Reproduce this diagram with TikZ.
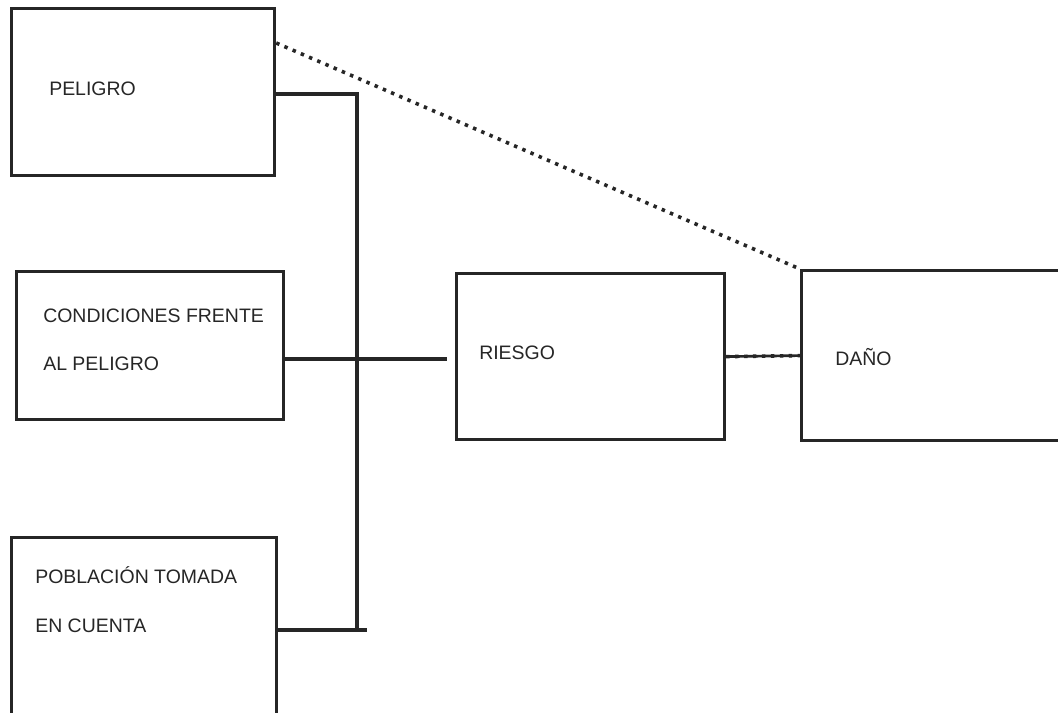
\documentclass[tikz,border=0pt]{standalone}
\usepackage{fontspec}
\setmainfont{Liberation Sans}
\usepackage{xcolor}

\begin{document}
\begin{tikzpicture}[x=0.75pt,y=-0.75pt]
    \definecolor{mygray}{RGB}{38,38,38}
    \fontsize{14.6pt}{17pt}\selectfont
    \tikzstyle{box}=[rectangle,draw=mygray,line width=2.4pt,inner sep=0pt,anchor=north west]  % cajas sin texto
    \tikzstyle{txt}=[inner sep=0pt,anchor=base west,text=mygray]  % textos
    \tikzstyle{wire}=[draw=mygray,line width=2.4pt]  % lineas de union
    \tikzstyle{dots}=[draw=mygray,line width=2.7pt,dash pattern=on 2.6pt off 4.1pt]
    \tikzstyle{dotwire}=[dots,preaction={draw=mygray,solid,line width=2pt}]

    \useasboundingbox (0,0) rectangle (1058,713);

    % cajas
    \node[box,minimum width=197.25pt,minimum height=125.25pt](peligro) at (10,7) {};
    \node[box,minimum width=200.25pt,minimum height=111pt](condiciones) at (15,270) {};
    \node[box,minimum width=198.75pt,minimum height=153pt](poblacion) at (10,536) {};
    \node[box,minimum width=201pt,minimum height=124.5pt](riesgo) at (455,272) {};
    \node[box,minimum width=225pt,minimum height=127.5pt](dano) at (800,269) {};

    % textos
    \node[txt](tPeligro) at (49,96) {PELIGRO};
    \node[txt](tCond1) at (43,323) {CONDICIONES FRENTE};
    \node[txt](tCond2) at (43,371) {AL PELIGRO};
    \node[txt](tPob1) at (35,583) {POBLACIÓN TOMADA};
    \node[txt](tPob2) at (35,632) {EN CUENTA};
    \node[txt](tRiesgo) at (479,359) {RIESGO};
    \node[txt](tDano) at (835,365) {DAÑO};

    % puntos de la barra vertical
    \coordinate (busT) at (357,94);
    \coordinate (busM) at (357,359);
    \coordinate (busB) at (357,630);

    % lineas
    \draw[wire](peligro.east |- busT) -- (busT) -- (busB);
    \draw[wire,shorten >=6pt](condiciones.east |- busM) -- (busM) -- (riesgo.west |- busM);
    \draw[wire](poblacion.east |- busB) -- ([xshift=7.5pt]busB);
    \draw[dots]([yshift=-27pt]peligro.north east) -- (dano.north west);
    \draw[dotwire](riesgo.east) -- (dano.west);
\end{tikzpicture}
\end{document}
